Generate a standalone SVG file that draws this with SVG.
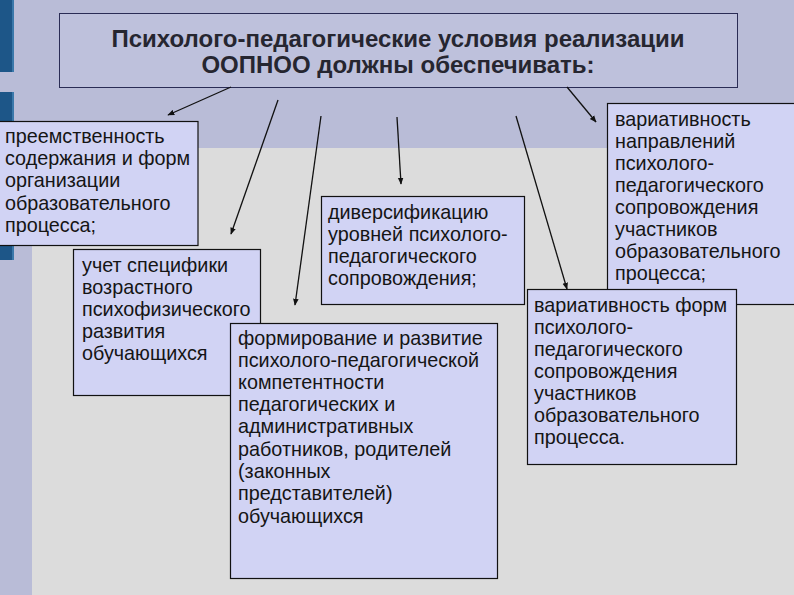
<svg xmlns="http://www.w3.org/2000/svg" width="794" height="595" viewBox="0 0 794 595">
<defs>
<marker id="ah" viewBox="0 0 10 10" refX="9" refY="5" markerWidth="7" markerHeight="7" markerUnits="userSpaceOnUse" orient="auto">
<path d="M0,1 L10,5 L0,9 Z" fill="#111"/>
</marker>
</defs>
<style>
.box{fill:#d1d3f4;stroke:#111;stroke-width:1.2}
.t{font-family:"Liberation Sans",Arial,sans-serif;font-size:19.8px;fill:#151515}
.ttl{font-family:"Liberation Sans",Arial,sans-serif;font-size:24px;font-weight:bold;fill:#262630;text-anchor:middle}
.c{stroke:#111;stroke-width:1.3;fill:none;marker-end:url(#ah)}
.bar{fill:#1d5688}
</style>
<rect x="0" y="0" width="794" height="595" fill="#dcdcdc"/>
<rect x="0" y="0" width="794" height="148" fill="#b9bcd7"/>
<rect x="0" y="148" width="32" height="447" fill="#b9bcd7"/>
<rect class="bar" x="0" y="0" width="14" height="72"/>
<rect class="bar" x="0" y="92" width="14" height="168"/>
<rect x="12" y="0" width="2" height="72" fill="#3a78aa"/>
<rect x="12" y="92" width="2" height="168" fill="#3a78aa"/>

<g id="title">
<rect x="59.5" y="13.5" width="678" height="74" fill="#bec1dc" stroke="#2a2c55" stroke-width="1"/>
<text class="ttl" x="398" y="47">Психолого-педагогические условия реализации</text>
<text class="ttl" x="398" y="73">ООПНОО должны обеспечивать:</text>
</g>

<g id="connectors">
<line class="c" x1="231" y1="87" x2="168" y2="115"/>
<line class="c" x1="278" y1="100" x2="231" y2="234"/>
<line class="c" x1="321" y1="116" x2="295" y2="305"/>
<line class="c" x1="397" y1="117" x2="401" y2="184"/>
<line class="c" x1="516" y1="116" x2="567" y2="289"/>
<line class="c" x1="567" y1="87" x2="596" y2="122"/>
</g>

<g id="n1">
<rect class="box" x="-1" y="121.5" width="199" height="124"/>
<text class="t" x="5"><tspan x="5" y="143">преемственность</tspan><tspan x="5" y="165">содержания и форм</tspan><tspan x="5" y="187">организации</tspan><tspan x="5" y="210">образовательного</tspan><tspan x="5" y="232">процесса;</tspan></text>
</g>

<g id="n2">
<rect class="box" x="73.5" y="249.5" width="187" height="146"/>
<text class="t"><tspan x="82" y="272">учет специфики</tspan><tspan x="82" y="294">возрастного</tspan><tspan x="82" y="316">психофизического</tspan><tspan x="82" y="338">развития</tspan><tspan x="82" y="360">обучающихся</tspan></text>
</g>

<g id="n3">
<rect class="box" x="321.5" y="196.5" width="203" height="108"/>
<text class="t"><tspan x="328" y="219">диверсификацию</tspan><tspan x="328" y="241">уровней психолого-</tspan><tspan x="328" y="263">педагогического</tspan><tspan x="328" y="285">сопровождения;</tspan></text>
</g>

<g id="n5">
<rect class="box" x="607.5" y="103.5" width="188" height="201"/>
<text class="t"><tspan x="615" y="126">вариативность</tspan><tspan x="615" y="148">направлений</tspan><tspan x="615" y="170">психолого-</tspan><tspan x="615" y="192">педагогического</tspan><tspan x="615" y="214">сопровождения</tspan><tspan x="615" y="236">участников</tspan><tspan x="615" y="258">образовательного</tspan><tspan x="615" y="280">процесса;</tspan></text>
</g>

<g id="n6">
<rect class="box" x="527.5" y="289.5" width="209" height="175"/>
<text class="t"><tspan x="534" y="312">вариативность форм</tspan><tspan x="534" y="334">психолого-</tspan><tspan x="534" y="356">педагогического</tspan><tspan x="534" y="378">сопровождения</tspan><tspan x="534" y="400">участников</tspan><tspan x="534" y="422">образовательного</tspan><tspan x="534" y="444">процесса.</tspan></text>
</g>

<g id="n4">
<rect class="box" x="230.5" y="323.5" width="267" height="255"/>
<text class="t"><tspan x="238" y="345">формирование и развитие</tspan><tspan x="238" y="367">психолого-педагогической</tspan><tspan x="238" y="389">компетентности</tspan><tspan x="238" y="411">педагогических и</tspan><tspan x="238" y="433">административных</tspan><tspan x="238" y="456">работников, родителей</tspan><tspan x="238" y="478">(законных</tspan><tspan x="238" y="500">представителей)</tspan><tspan x="238" y="523">обучающихся</tspan></text>
</g>
</svg>
